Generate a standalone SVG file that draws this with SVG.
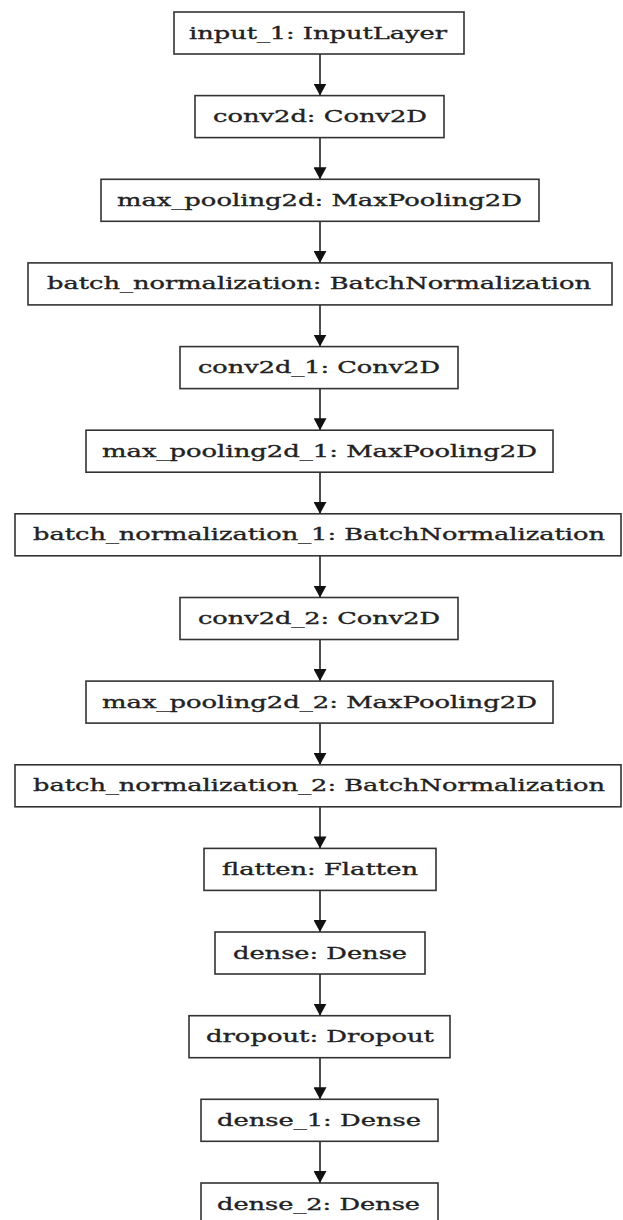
<svg xmlns="http://www.w3.org/2000/svg" width="623" height="1220" viewBox="0 0 623 1220">
<style>
.box{fill:#fff;stroke:#333;stroke-width:1.6}
.lbl{font-family:"DejaVu Serif","Liberation Serif",serif;font-size:17px;fill:#222;stroke:#222;stroke-width:0.35;text-anchor:middle}
.edge{stroke:#222;stroke-width:1.6;fill:none}
</style>
<defs>
<marker id="ah" markerWidth="13" markerHeight="13" refX="12" refY="6.5" orient="auto" markerUnits="userSpaceOnUse">
<path d="M0,0 L12,6.5 L0,13 Z" fill="#111"/>
</marker>
</defs>
<rect width="623" height="1220" fill="#fff"/>
<g id="connectors">
<line class="edge" x1="320" y1="54" x2="320" y2="95.6" marker-end="url(#ah)"/>
<line class="edge" x1="320" y1="137.6" x2="320" y2="179.3" marker-end="url(#ah)"/>
<line class="edge" x1="320" y1="221.3" x2="320" y2="262.9" marker-end="url(#ah)"/>
<line class="edge" x1="320" y1="304.9" x2="320" y2="346.6" marker-end="url(#ah)"/>
<line class="edge" x1="320" y1="388.6" x2="320" y2="430.2" marker-end="url(#ah)"/>
<line class="edge" x1="320" y1="472.2" x2="320" y2="513.8" marker-end="url(#ah)"/>
<line class="edge" x1="320" y1="555.8" x2="320" y2="597.5" marker-end="url(#ah)"/>
<line class="edge" x1="320" y1="639.5" x2="320" y2="681.1" marker-end="url(#ah)"/>
<line class="edge" x1="320" y1="723.1" x2="320" y2="764.8" marker-end="url(#ah)"/>
<line class="edge" x1="320" y1="806.8" x2="320" y2="848.4" marker-end="url(#ah)"/>
<line class="edge" x1="320" y1="890.4" x2="320" y2="932" marker-end="url(#ah)"/>
<line class="edge" x1="320" y1="974" x2="320" y2="1015.7" marker-end="url(#ah)"/>
<line class="edge" x1="320" y1="1057.7" x2="320" y2="1099.3" marker-end="url(#ah)"/>
<line class="edge" x1="320" y1="1141.3" x2="320" y2="1183" marker-end="url(#ah)"/>
</g>
<g id="input_1"><rect class="box" x="174" y="12" width="290" height="42"/><text class="lbl" x="318" y="38.5" textLength="258" lengthAdjust="spacingAndGlyphs">input_1: InputLayer</text></g>
<g id="conv2d"><rect class="box" x="195" y="95.6" width="249" height="42"/><text class="lbl" x="320" y="122.1" textLength="214" lengthAdjust="spacingAndGlyphs">conv2d: Conv2D</text></g>
<g id="max_pooling2d"><rect class="box" x="101" y="179.3" width="438" height="42"/><text class="lbl" x="319.5" y="205.8" textLength="405" lengthAdjust="spacingAndGlyphs">max_pooling2d: MaxPooling2D</text></g>
<g id="batch_normalization"><rect class="box" x="28" y="262.9" width="584" height="42"/><text class="lbl" x="319" y="289.4" textLength="544" lengthAdjust="spacingAndGlyphs">batch_normalization: BatchNormalization</text></g>
<g id="conv2d_1"><rect class="box" x="180" y="346.6" width="278" height="42"/><text class="lbl" x="319" y="373.1" textLength="242" lengthAdjust="spacingAndGlyphs">conv2d_1: Conv2D</text></g>
<g id="max_pooling2d_1"><rect class="box" x="86" y="430.2" width="467" height="42"/><text class="lbl" x="319.5" y="456.7" textLength="435" lengthAdjust="spacingAndGlyphs">max_pooling2d_1: MaxPooling2D</text></g>
<g id="batch_normalization_1"><rect class="box" x="15" y="513.8" width="606" height="42"/><text class="lbl" x="319" y="540.3" textLength="572" lengthAdjust="spacingAndGlyphs">batch_normalization_1: BatchNormalization</text></g>
<g id="conv2d_2"><rect class="box" x="180" y="597.5" width="278" height="42"/><text class="lbl" x="319" y="624" textLength="242" lengthAdjust="spacingAndGlyphs">conv2d_2: Conv2D</text></g>
<g id="max_pooling2d_2"><rect class="box" x="86" y="681.1" width="467" height="42"/><text class="lbl" x="319.5" y="707.6" textLength="435" lengthAdjust="spacingAndGlyphs">max_pooling2d_2: MaxPooling2D</text></g>
<g id="batch_normalization_2"><rect class="box" x="15" y="764.8" width="606" height="42"/><text class="lbl" x="319" y="791.3" textLength="572" lengthAdjust="spacingAndGlyphs">batch_normalization_2: BatchNormalization</text></g>
<g id="flatten"><rect class="box" x="204" y="848.4" width="232" height="42"/><text class="lbl" x="320" y="874.9" textLength="196" lengthAdjust="spacingAndGlyphs">flatten: Flatten</text></g>
<g id="dense"><rect class="box" x="215" y="932" width="210" height="42"/><text class="lbl" x="320" y="958.5" textLength="174" lengthAdjust="spacingAndGlyphs">dense: Dense</text></g>
<g id="dropout"><rect class="box" x="189" y="1015.7" width="261" height="42"/><text class="lbl" x="320" y="1042.2" textLength="228" lengthAdjust="spacingAndGlyphs">dropout: Dropout</text></g>
<g id="dense_1"><rect class="box" x="201" y="1099.3" width="237" height="42"/><text class="lbl" x="319" y="1125.8" textLength="204" lengthAdjust="spacingAndGlyphs">dense_1: Dense</text></g>
<g id="dense_2"><rect class="box" x="201" y="1183" width="237" height="42"/><text class="lbl" x="318.5" y="1209.5" textLength="203" lengthAdjust="spacingAndGlyphs">dense_2: Dense</text></g>
</svg>
